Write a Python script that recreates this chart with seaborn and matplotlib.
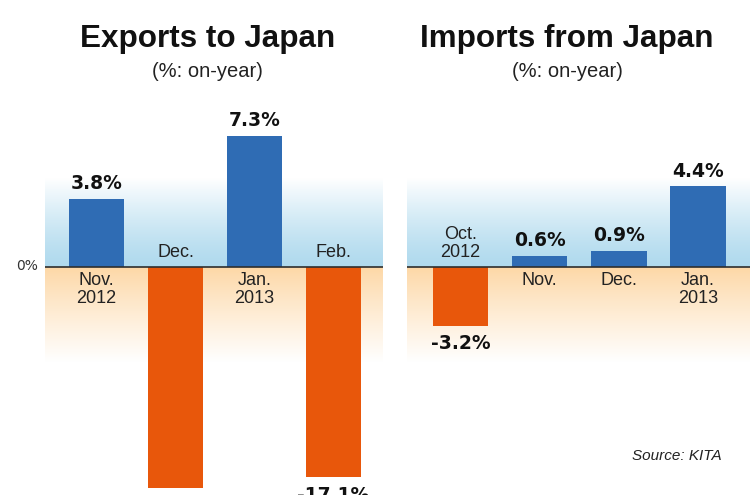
import numpy as np
import pandas as pd
import matplotlib
matplotlib.use("Agg")
import matplotlib.pyplot as plt
import seaborn as sns

# ---------------- data ----------------
exp_months = ["Nov.\n2012", "Dec.", "Jan.\n2013", "Feb."]
exp_values = [3.8, -18.0, 7.3, -17.1]
imp_months = ["Oct.\n2012", "Nov.", "Dec.", "Jan.\n2013"]
imp_values = [-3.2, 0.6, 0.9, 4.4]
titles = ["Exports to Japan", "Imports from Japan"]
subtitle = "(%: on-year)"
source = "Source: KITA"

BLUE = "#2f6cb4"
ORANGE = "#e8570b"
BG_BLUE = np.array([176, 218, 238]) / 255.0
BG_ORANGE = np.array([253, 215, 165]) / 255.0

sns.set_style("white")
plt.rcParams["font.family"] = ["Liberation Sans", "DejaVu Sans"]

W, H = 750, 495
fig = plt.figure(figsize=(W / 100, H / 100), dpi=100)
fig.patch.set_facecolor("white")


def px_rect(x0, x1, ytop, ybot):
    return [x0 / W, 1 - ybot / H, (x1 - x0) / W, (ybot - ytop) / H]


ZERO_PX = 267.0
# background gradients
def gradient_axes(x0, x1):
    top, bot = 178, 362
    bg = fig.add_axes(px_rect(x0, x1, top, bot), zorder=0)
    rows = np.arange(top, bot) + 0.5
    img = np.ones((len(rows), 2, 3))
    for i, y in enumerate(rows):
        if y < ZERO_PX:
            t = min(1.0, (ZERO_PX - y) / (ZERO_PX - top))
            w = t ** 1.3
            c = BG_BLUE * (1 - w) + w
        else:
            t = min(1.0, (y - ZERO_PX) / (bot - ZERO_PX))
            w = t ** 0.9
            c = BG_ORANGE * (1 - w) + w
        img[i, :, :] = c
    bg.imshow(img, aspect="auto", extent=[0, 1, 0, 1], interpolation="bilinear")
    bg.set_axis_off()
    return bg


gradient_axes(45, 383)
gradient_axes(407, 750)

# data axes
ax1 = fig.add_axes(px_rect(45, 383, 95, 495), zorder=2)
ax2 = fig.add_axes(px_rect(407, 750, 95, 495), zorder=2)

PXPP = 18.0          # pixels per percentage point (positive side)
NEG_RATIO = 12.3 / 18.0   # left chart compresses negative side


def fwd(y):
    y = np.asarray(y, dtype=float)
    return np.where(y < 0, y * NEG_RATIO, y)


def inv(y):
    y = np.asarray(y, dtype=float)
    return np.where(y < 0, y / NEG_RATIO, y)


ax1.set_yscale("function", functions=(fwd, inv))

VAL_FONT = dict(family=["DejaVu Sans"], weight="bold", size=13.5, color="#111111")
CAT_FONT = dict(family=["Liberation Sans", "DejaVu Sans"], size=13, color="#222222")


def draw_panel(ax, months, values, xlim, ylim):
    df = pd.DataFrame({"month": months, "value": values,
                       "sign": ["pos" if v >= 0 else "neg" for v in values]})
    sns.barplot(data=df, x="month", y="value", hue="sign",
                hue_order=["pos", "neg"], palette={"pos": BLUE, "neg": ORANGE},
                dodge=False, width=0.7, saturation=1, legend=False, ax=ax,
                zorder=3, linewidth=0)
    ax.axhline(0, color="#2e2e2e", lw=1.2, zorder=4)
    for i, (m, v) in enumerate(zip(months, values)):
        lab = f"{v:.1f}%"
        if v >= 0:
            ax.annotate(lab, xy=(i, v), xytext=(0, 7), textcoords="offset points",
                        ha="center", va="baseline", annotation_clip=False, **VAL_FONT)
            ax.annotate(m, xy=(i, 0), xytext=(0, -3.5), textcoords="offset points",
                        ha="center", va="top", multialignment="center",
                        linespacing=1.12, **CAT_FONT)
        else:
            ax.annotate(lab, xy=(i, v), xytext=(0, -6), textcoords="offset points",
                        ha="center", va="top", annotation_clip=False, **VAL_FONT)
            ax.annotate(m, xy=(i, 0), xytext=(0, 4), textcoords="offset points",
                        ha="center", va="bottom", multialignment="center",
                        linespacing=1.12, **CAT_FONT)
    ax.set_xlim(*xlim)
    ax.set_ylim(*ylim)
    ax.set_facecolor("none")
    ax.set_xlabel("")
    ax.set_ylabel("")
    ax.set_xticks([])
    ax.set_yticks([])
    for s in ax.spines.values():
        s.set_visible(False)


top_val = (ZERO_PX - 95) / PXPP
bot_px = 495 - ZERO_PX
draw_panel(ax1, exp_months, exp_values, (-0.652, 3.627),
           (-bot_px / PXPP / NEG_RATIO, top_val))
draw_panel(ax2, imp_months, imp_values, (-0.675, 3.657),
           (-bot_px / 18.3, (ZERO_PX - 95) / 18.3))

# 0% label
ax1.annotate("0%", xy=(0, 0), xycoords=("axes fraction", "data"),
             xytext=(-5, 1), textcoords="offset points", ha="right", va="center",
             family=["DejaVu Sans"], size=10, color="#333333", annotation_clip=False)

# titles
for cx, t in zip([207.5, 567.0], titles):
    fig.text(cx / W, 1 - 46.7 / H, t, ha="center", va="baseline",
             fontsize=22.6, fontweight="bold", color="#111111")
    fig.text(cx / W, 1 - 77 / H, subtitle, ha="center", va="baseline",
             fontsize=14.5, color="#222222")

fig.text(722 / W, 1 - 460 / H, source, ha="right", va="baseline",
         fontsize=11, style="italic", color="#222222")

fig.savefig("out.png", dpi=100, facecolor="white")
